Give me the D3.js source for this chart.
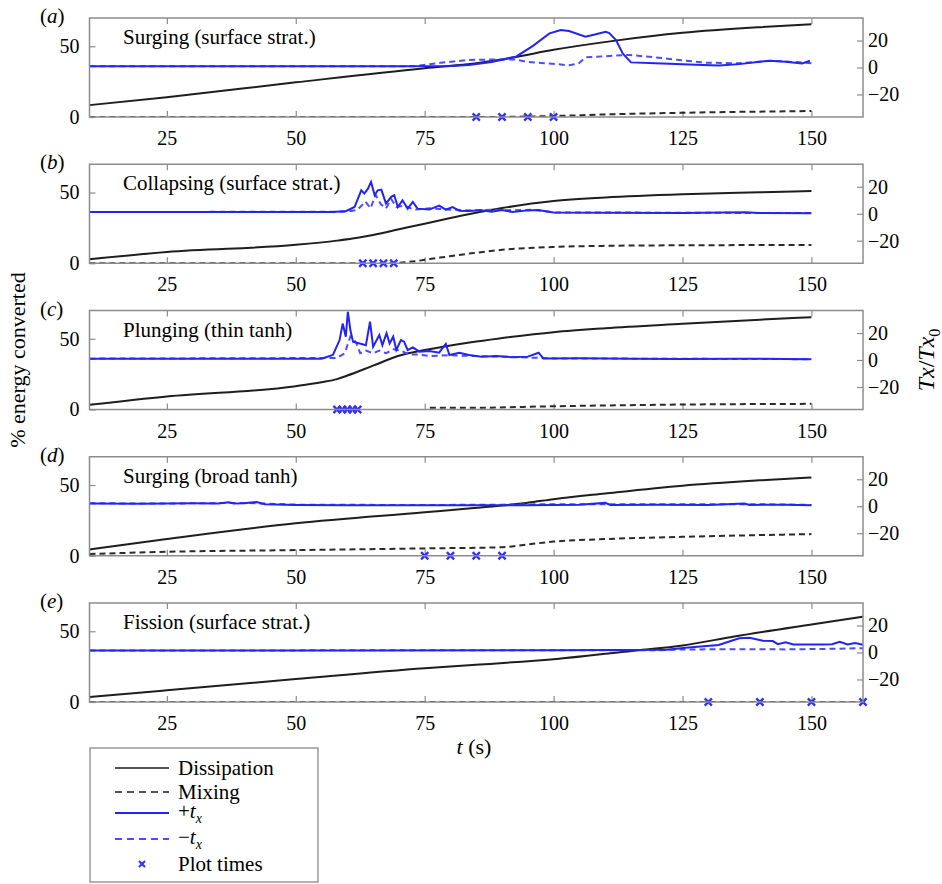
<!DOCTYPE html>
<html>
<head>
<meta charset="utf-8">
<script src="https://cdn.jsdelivr.net/npm/d3@7"></script>
<style>
    body { margin: 0; background: #fff; }
    svg { font-family: "Liberation Serif", "Times New Roman", serif; }
</style>
</head>
<body>
<div id="chart"></div>
<script>
// ---- data: [t (s), value] ----
const panelLetters = ["a", "b", "c", "d", "e"];
const panelTitles = ["Surging (surface strat.)", "Collapsing (surface strat.)", "Plunging (thin tanh)",
    "Surging (broad tanh)", "Fission (surface strat.)"];
const xTicks = [25, 50, 75, 100, 125, 150];
const leftTicks = [0, 50];
const rightTicks = [-20, 0, 20];

// dissipation, % energy converted (left axis)
const dissA = [[10, 8.4], [25, 14], [50, 24.5], [75, 34.5], [85, 38], [92, 42], [100, 47.5], [112, 54], [125, 59.5], [140, 63.5], [150, 65.5]];
const dissB = [[10, 2.8], [25, 8], [50, 13], [58, 16], [62, 18], [65, 20], [70, 24], [75, 28], [84, 35], [90, 39], [100, 44], [110, 46.5], [125, 48.8], [140, 50.2], [150, 51]];
const dissC = [[10, 3.3], [25, 9.2], [50, 16.5], [55, 19.3], [58, 21.5], [60, 24], [65, 31], [70, 38], [75, 42], [84, 47.6], [90, 50.5], [100, 54.7], [110, 57.5], [125, 60.6], [140, 63.5], [150, 65.3]];
const dissD = [[10, 4.5], [25, 11.8], [50, 22.9], [75, 30.7], [84, 33.5], [90, 35.5], [95, 37.5], [100, 40], [110, 44], [125, 49.5], [140, 53.3], [150, 55.4]];
const dissE = [[10, 3.6], [25, 8.3], [50, 16.2], [75, 23.8], [85, 26.3], [100, 30.3], [116, 36.4], [125, 40], [135, 46.3], [150, 54.8], [160, 60.3]];

// mixing, % energy converted (left axis)
const mixA = [[10, 0], [85, 0], [100, 0.7], [110, 1.8], [125, 3], [150, 4.2]];
const mixB = [[10, 0], [68, 0], [72, 1], [78, 4], [84, 7], [90, 9.5], [100, 11.5], [110, 12.3], [125, 12.7], [150, 12.9]];
const mixC = [[76, 1.2], [84, 1.2], [100, 2.3], [125, 3.5], [150, 4]];
const mixD = [[10, 1.2], [25, 2.8], [50, 4], [75, 5.2], [90, 6], [95, 8], [100, 10], [110, 11.8], [125, 13.4], [140, 14.6], [150, 15.3]];
const mixE = [[10, 0], [160, 0]];

// +t_x, Tx/Tx0 (right axis)
const plusA = [[10, 1], [70, 1], [80, 1.2], [83.6, 1.8], [88, 4], [92.7, 8], [96, 16], [99.2, 25.3], [101.4, 27.8], [103, 27], [106.2, 22.8], [108.2, 24.6], [110.1, 26.5], [110.8, 25.5], [112.1, 20.4], [113.4, 10.5], [115, 3.8], [119.8, 3.1], [125, 2.5], [128.9, 1.85], [132.1, 1.4], [136, 2.5], [141.8, 5], [145, 4.3], [148.2, 3], [149.7, 5]];
const plusB = [[10, 1.3], [57.2, 1.3], [59.8, 2.1], [61.4, 5], [62.7, 17.4], [63.3, 15], [64, 18.6], [64.6, 23.6], [65.3, 13.7], [65.9, 17.4], [66.6, 17.9], [67.5, 7.5], [68.5, 12.5], [69.1, 13.7], [69.8, 5], [70.7, 10], [71.7, 3.8], [72.7, 8.8], [73.6, 3.8], [75.9, 3.1], [77.8, 6], [79.1, 3.1], [80.4, 5], [81.7, 2.3], [83.6, 2], [86, 2.6], [88, 1.5], [90, 2.8], [92, 1.3], [95, 2.5], [97, 2.8], [100, 1], [110, 0.8], [125, 0.6], [137, 1.2], [140, 0.5], [150, 0.3]];
const plusC = [[10, 1], [55, 1], [57.2, 3.7], [58.5, 14.8], [59.1, 27], [59.7, 17.3], [60.1, 35.8], [60.6, 22], [61.1, 13.6], [62.4, 12.3], [63.6, 11], [64.4, 28.4], [65, 9.9], [66.2, 18.5], [66.8, 11], [67.6, 19.8], [68.2, 12.3], [68.9, 17.3], [69.5, 7.4], [70.4, 14.8], [71, 13.6], [71.7, 7.4], [72.7, 9.4], [74, 6.2], [75.9, 6.7], [77.8, 5.4], [79.1, 12], [79.8, 3.7], [81.7, 5.4], [83.6, 3.7], [86, 2.5], [89, 3], [92, 2], [95, 2.5], [97.1, 5.4], [98, 1.2], [105, 1.3], [115, 1], [125, 0.8], [135, 1], [145, 0.8], [150, 0.5]];
const plusD = [[10, 2], [20, 1.8], [30, 2.2], [35, 2], [37, 3], [38, 2], [40, 2.2], [42.4, 3.2], [44, 1.5], [50, 1], [60, 0.8], [75, 0.7], [90, 0.8], [95, 0.8], [100, 1], [105, 1.2], [110, 2.5], [111, 1], [120, 1.2], [130, 1], [137, 2], [138, 1], [145, 1.2], [150, 0.8]];
const plusE = [[10, 1.5], [60, 1.5], [100, 1.7], [122, 2], [125.6, 3.6], [132, 5.6], [136, 10.5], [138, 11], [140.6, 8.8], [142.5, 8.5], [143.5, 6.2], [145, 7.5], [146.5, 6], [152, 6], [154, 6.2], [155.5, 8], [157, 6], [158.5, 7], [160, 5.7]];

// -t_x, Tx/Tx0 (right axis)
const minusA = [[10, 1], [73, 1], [78, 3.5], [83.6, 5.6], [88, 5.9], [92.7, 5.9], [94.6, 4.3], [100.4, 2.6], [103, 1.6], [104.9, 3.1], [106.2, 7.5], [110.1, 8.4], [114.6, 9.3], [119.8, 7.5], [124.3, 5.6], [129.4, 3.6], [135.9, 3.1], [142.3, 5], [148.8, 3.6], [150, 3.2]];
const minusB = [[10, 1.3], [60, 1.5], [62, 3], [63.5, 9], [64.5, 4], [65.5, 14], [66.5, 7], [67.5, 4], [68.5, 11], [69.5, 5], [71, 6], [73, 3], [76, 4], [80, 3], [84, 2.5], [88, 3], [92, 2.5], [96, 3], [100, 1], [150, 0.5]];
const minusC = [[10, 1], [58, 1.5], [59.5, 5], [60.6, 17.5], [61.7, 13], [62.5, 5], [63.6, 7], [65, 5], [66.2, 7], [67.5, 5], [69, 8], [70.4, 7], [72, 4], [74, 4], [76, 3], [80, 3.5], [84, 3], [90, 2.5], [100, 1.2], [150, 0.6]];
const minusD = [[10, 2.2], [25, 2], [40, 2.5], [50, 1.2], [75, 0.9], [90, 1.2], [100, 1.5], [110, 1.5], [125, 1.5], [140, 1.5], [150, 1]];
const minusE = [[10, 1.5], [120, 1.7], [125, 2.2], [135, 2.5], [145, 2.3], [155, 2.8], [160, 3.2]];

// plot times (s)
const plotTimesA = [85, 90, 95, 100];
const plotTimesB = [63, 65, 67, 69];
const plotTimesC = [58, 59, 60, 61, 62];
const plotTimesD = [75, 80, 85, 90];
const plotTimesE = [130, 140, 150, 160];

const panels = [
    {diss: dissA, mix: mixA, plus: plusA, minus: minusA, times: plotTimesA},
    {diss: dissB, mix: mixB, plus: plusB, minus: minusB, times: plotTimesB},
    {diss: dissC, mix: mixC, plus: plusC, minus: minusC, times: plotTimesC},
    {diss: dissD, mix: mixD, plus: plusD, minus: minusD, times: plotTimesD},
    {diss: dissE, mix: mixE, plus: plusE, minus: minusE, times: plotTimesE}
];

// ---- layout ----
const width = 942, height = 884;
const plotLeft = 89.5, plotRight = 863, panelH = 99;
const frameColor = "#8c8c8c";
const blue = "#2323f5", blueDash = "#4b4bff", black = "#1e1e1e";
const serif = "'Liberation Serif', 'Times New Roman', serif";

const svg = d3.select("#chart").append("svg")
    .attr("width", width)
    .attr("height", height);

const x = d3.scaleLinear().domain([10, 160]).range([plotLeft, plotRight]);
const yL = d3.scaleLinear().domain([0, 70]).range([panelH, 0]);
const yR = d3.scaleLinear().domain([-36.7, 36.7]).range([panelH, 0]);

// smooth energy curves, raw torque signals
const lineL = d3.line().x(d => x(d[0])).y(d => yL(d[1])).curve(d3.curveMonotoneX);
const lineR = d3.line().x(d => x(d[0])).y(d => yR(d[1]));

function styleAxis(g) {
    g.attr("font-family", serif);
    g.select(".domain").remove();
    g.selectAll(".tick line").attr("stroke", frameColor).attr("stroke-width", 1.2);
    g.selectAll(".tick text").attr("fill", "#000").style("font-size", "20px");
}

panels.forEach((p, i) => {
    let top = 18 + i * 146.25;
    let g = svg.append("g").attr("transform", `translate(0,${top})`);

    g.append("clipPath").attr("id", "clip" + i)
        .append("rect")
        .attr("x", plotLeft).attr("y", 0)
        .attr("width", plotRight - plotLeft).attr("height", panelH);

    // axes, ticks pointing inward
    g.append("g").attr("transform", `translate(0,${panelH})`)
        .call(d3.axisBottom(x).tickValues(xTicks).tickSizeInner(-6).tickSizeOuter(0).tickPadding(14))
        .call(styleAxis);
    g.append("g")
        .call(d3.axisTop(x).tickValues(xTicks).tickSizeInner(-6).tickSizeOuter(0).tickFormat(""))
        .call(styleAxis);
    g.append("g").attr("transform", `translate(${plotLeft},0)`)
        .call(d3.axisLeft(yL).tickValues(leftTicks).tickSizeInner(-6).tickSizeOuter(0).tickPadding(10))
        .call(styleAxis);
    g.append("g").attr("transform", `translate(${plotRight},0)`)
        .call(d3.axisRight(yR).tickValues(rightTicks).tickSizeInner(-6).tickSizeOuter(0).tickPadding(5))
        .call(styleAxis);

    let plot = g.append("g").attr("clip-path", `url(#clip${i})`);

    plot.append("path").datum(p.diss)
        .attr("fill", "none").attr("stroke", black).attr("stroke-width", 2)
        .attr("d", lineL);
    plot.append("path").datum(p.mix)
        .attr("fill", "none").attr("stroke", "#2a2a2a").attr("stroke-width", 2)
        .attr("stroke-dasharray", "6,4")
        .attr("d", lineL);
    plot.append("path").datum(p.minus)
        .attr("fill", "none").attr("stroke", blueDash).attr("stroke-width", 2)
        .attr("stroke-dasharray", "6,4")
        .attr("d", lineR);
    plot.append("path").datum(p.plus)
        .attr("fill", "none").attr("stroke", blue).attr("stroke-width", 2)
        .attr("d", lineR);

    // plot-time markers on the zero line
    g.selectAll(".mark").data(p.times).enter().append("path")
        .attr("class", "mark")
        .attr("fill", "none").attr("stroke", "#2e2eff").attr("stroke-width", 2.3)
        .attr("d", d => {
            let cx = x(d), cy = yL(0), s = 3.6;
            return `M${cx - s},${cy - s}L${cx + s},${cy + s}M${cx + s},${cy - s}L${cx - s},${cy + s}`;
        });

    // frame
    g.append("rect")
        .attr("x", plotLeft).attr("y", 0)
        .attr("width", plotRight - plotLeft).attr("height", panelH)
        .attr("fill", "none").attr("stroke", frameColor).attr("stroke-width", 1.5);

    // panel letter
    let lab = g.append("text").attr("x", 40).attr("y", 5).style("font-size", "21px");
    lab.append("tspan").text("(");
    lab.append("tspan").style("font-style", "italic").text(panelLetters[i]);
    lab.append("tspan").text(")");

    // panel title
    g.append("text").attr("x", 123).attr("y", 26)
        .style("font-size", "21px")
        .text(panelTitles[i]);
});

// axis titles
svg.append("text")
    .attr("transform", "translate(25,360) rotate(-90)")
    .attr("text-anchor", "middle")
    .style("font-size", "22px")
    .text("% energy converted");

let rt = svg.append("text")
    .attr("transform", "translate(934,360) rotate(-90)")
    .attr("text-anchor", "middle")
    .style("font-size", "24px");
rt.append("tspan").style("font-style", "italic").text("Tx");
rt.append("tspan").text("/");
rt.append("tspan").style("font-style", "italic").text("Tx");
rt.append("tspan").attr("dy", 6).style("font-size", "16px").text("0");

let xt = svg.append("text")
    .attr("x", 474).attr("y", 754)
    .attr("text-anchor", "middle")
    .style("font-size", "22px");
xt.append("tspan").style("font-style", "italic").text("t");
xt.append("tspan").text(" (s)");

// ---- legend ----
const legendItems = [
    {label: "Dissipation", color: "#555", dash: null},
    {label: "Mixing", color: "#555", dash: "7,5"},
    {label: "+", sub: true, color: blue, dash: null},
    {label: "\u2212", sub: true, color: blueDash, dash: "7,5"},
    {label: "Plot times", marker: true, color: "#2e2eff"}
];
const legendY = [768, 792, 813, 839, 864];

let legend = svg.append("g");
legend.append("rect")
    .attr("x", 90).attr("y", 748).attr("width", 228).attr("height", 134)
    .attr("fill", "#fff").attr("stroke", "#999").attr("stroke-width", 1.5);

legendItems.forEach((d, i) => {
    let yy = legendY[i];
    if (d.marker) {
        let s = 3;
        legend.append("path")
            .attr("d", `M${142 - s},${yy - s}L${142 + s},${yy + s}M${142 + s},${yy - s}L${142 - s},${yy + s}`)
            .attr("stroke", d.color).attr("stroke-width", 2).attr("fill", "none");
    } else {
        legend.append("line")
            .attr("x1", 115).attr("x2", 169).attr("y1", yy).attr("y2", yy)
            .attr("stroke", d.color).attr("stroke-width", 2)
            .attr("stroke-dasharray", d.dash);
    }
    let t = legend.append("text").attr("x", 178).attr("y", yy + (d.sub ? 5 : 7)).style("font-size", "21px");
    if (d.sub) {
        t.append("tspan").text(d.label);
        t.append("tspan").style("font-style", "italic").text("t");
        t.append("tspan").attr("dy", 5).style("font-style", "italic").style("font-size", "14px").text("x");
    } else {
        t.text(d.label);
    }
});
</script>
</body>
</html>
